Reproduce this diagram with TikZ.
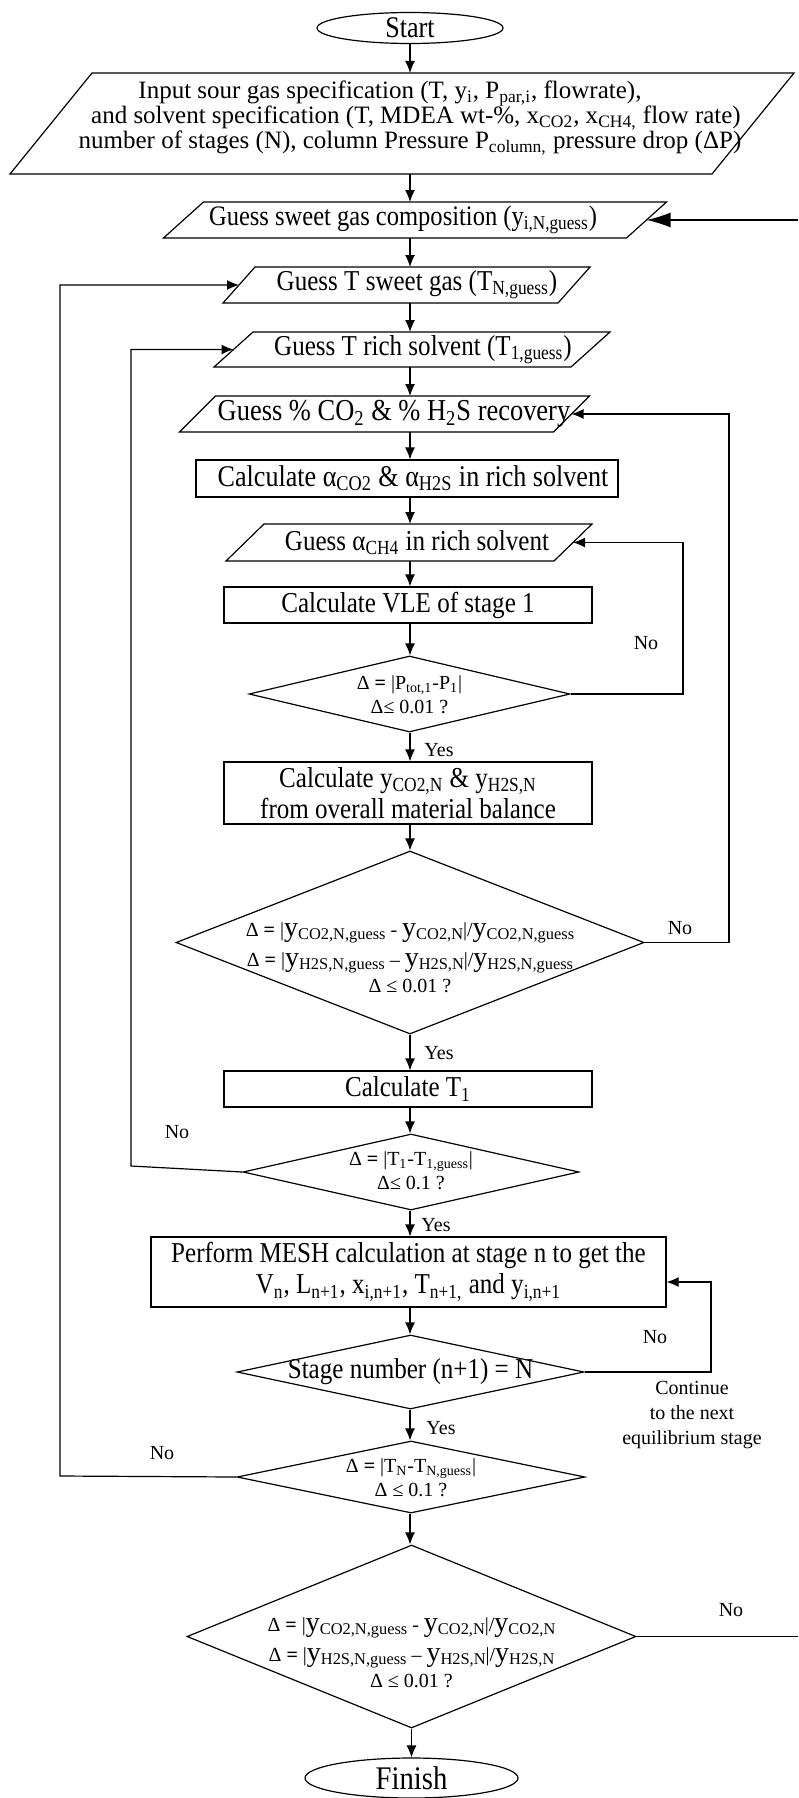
\documentclass[tikz,border=0pt]{standalone}
\usepackage{fontspec}
\setmainfont{Liberation Serif}
% a narrowed cut of the same face for the box texts
\newfontfamily\tallfont[FakeStretch=0.87]{Liberation Serif}
\usetikzlibrary{shapes.geometric,arrows.meta}

% parallelogram drawn round a frame node: #1 node name, #2 half of the slant
\newcommand\slantbox[2]{%
  \draw[line] ([xshift=-#2]#1.south west) -- ([xshift=-#2]#1.south east)
    -- ([xshift=#2]#1.north east) -- ([xshift=#2]#1.north west) -- cycle;}
% large y with a small subscript, as in the convergence tests
\newcommand\yv[1]{{\fontsize{14}{14}\selectfont y}\raisebox{-1.5pt}{\fontsize{8.2}{8.2}\selectfont #1}}
\newcommand\eqb{\textbf{=}}

\begin{document}
\begin{tikzpicture}[x=0.5pt,y=-0.5pt,
  line/.style={line width=0.6pt},
  flow/.style={line, -{Latex[length=6pt,width=5pt]}},
  bigflow/.style={line, -{Latex[length=12pt,width=7.5pt]}},
  frame/.style={draw=none, inner sep=0pt, outer sep=0pt},
  txt/.style={inner sep=0pt, align=center, font=\tallfont\fontsize{14.4}{17}\selectfont},
  box/.style={rectangle, draw, line width=0.6pt, inner sep=0pt, align=center, font=\tallfont\fontsize{14.4}{15.5}\selectfont},
  dec/.style={diamond, draw, line width=0.6pt, inner sep=0pt},
  dtxt/.style={inner sep=0pt, align=center, font=\fontsize{10}{12}\selectfont},
  term/.style={ellipse, draw, line width=0.6pt, inner sep=0pt},
  lbl/.style={inner sep=0pt, font=\fontsize{10}{12.5}\selectfont, align=center},
]
\fill[white] (0,0) rectangle (798,1798);
\useasboundingbox (0,0) rectangle (798,1798);
\coordinate (axis) at (410,0);

% ---------- main column ----------
\node[term, minimum width=93pt, minimum height=15.5pt, font=\tallfont\fontsize{15}{15}\selectfont] (start) at (410,28) {Start};

\node[frame, minimum width=351pt, minimum height=50.5pt] (input) at (402,123.5) {};
\slantbox{input}{20.5pt}
\node[inner sep=0pt, align=center, font=\fontsize{12.5}{12.5}\selectfont] (inputtxt) at (410,118)
  {\hspace*{-20pt}Input sour gas specification (T, y\textsubscript{i}, P\textsubscript{par,i}, flowrate),\\
   \hspace*{6pt}and solvent specification (T, MDEA wt-\%, x\textsubscript{CO2}, x\textsubscript{CH4,} flow rate)\\
   number of stages (N), column Pressure P\textsubscript{column,} pressure drop (ΔP)};

\node[frame, minimum width=231.5pt, minimum height=18pt] (comp) at (415,220) {};
\slantbox{comp}{10pt}
\node[txt, font=\tallfont\fontsize{14.1}{17}\selectfont] (comptxt) at (403,220) {Guess sweet gas composition (y\textsubscript{i,N,guess})};

\node[frame, minimum width=167.5pt, minimum height=18pt] (tsweet) at (406.5,285) {};
\slantbox{tsweet}{8pt}
\node[txt] (tsweettxt) at (417,285) {Guess T sweet gas (T\textsubscript{N,guess})};

\node[frame, minimum width=178.5pt, minimum height=17.5pt] (trich) at (412,349.5) {};
\slantbox{trich}{9.75pt}
\node[txt] (trichtxt) at (423,349.5) {Guess T rich solvent (T\textsubscript{1,guess})};

\node[frame, minimum width=187pt, minimum height=18pt] (recov) at (384.5,414) {};
\slantbox{recov}{9pt}
\node[txt, font=\tallfont\fontsize{15.2}{17}\selectfont] (recovtxt) at (394,414) {Guess \% CO\textsubscript{2} \& \% H\textsubscript{2}S recovery};

\node[box, minimum width=211pt, minimum height=18.5pt] (calcalpha) at (407,478.5) {};
\node[txt, font=\tallfont\fontsize{15}{17}\selectfont] (calcalphatxt) at (413,478.5)
  {Calculate α\textsubscript{CO2} \& α\textsubscript{H2S} in rich solvent};

\node[frame, minimum width=164pt, minimum height=18.5pt] (ch4) at (409,542.5) {};
\slantbox{ch4}{9.5pt}
\node[txt] (ch4txt) at (417,542.5) {Guess α\textsubscript{CH4} in rich solvent};

\node[box, minimum width=184pt, minimum height=18pt] (vle) at (408,605) {Calculate VLE of stage 1};

\node[dec, minimum width=160.5pt, minimum height=38pt] (d1) at (409.5,694) {};
\node[dtxt] (d1t) at (409.5,695) {Δ \eqb{} |P\textsubscript{tot,1}-P\textsubscript{1}|\\Δ≤ 0.01 ?};

\node[box, minimum width=184pt, minimum height=31pt] (calcy) at (408,793)
  {Calculate y\textsubscript{CO2,N} \& y\textsubscript{H2S,N}\\from overall material balance};

\node[dec, minimum width=234pt, minimum height=91.5pt] (d2) at (410,942.5) {};
\node[dtxt, font=\fontsize{10}{13}\selectfont] (d2t) at (410,958)
  {Δ \eqb{} |\yv{CO2,N,guess} - \yv{CO2,N}|/\yv{CO2,N,guess}\\[2pt]
   Δ \eqb{} |\yv{H2S,N,guess} – \yv{H2S,N}|/\yv{H2S,N,guess}\\
   Δ ≤ 0.01 ?};

\node[box, minimum width=184pt, minimum height=18pt] (calct1) at (408,1089) {Calculate T\textsubscript{1}};

\node[dec, minimum width=168pt, minimum height=38pt] (d3) at (411,1172) {};
\node[dtxt] (d3t) at (411,1171) {Δ \eqb{} |T\textsubscript{1}-T\textsubscript{1,guess}|\\Δ≤ 0.1 ?};

\node[box, minimum width=257.5pt, minimum height=35pt] (mesh) at (408.5,1272)
  {Perform MESH calculation at stage n to get the\\
   V\textsubscript{n}, L\textsubscript{n+1}, x\textsubscript{i,n+1}, T\textsubscript{n+1,} and y\textsubscript{i,n+1}};

\node[dec, minimum width=173.5pt, minimum height=37pt] (d4) at (410.5,1372) {};
\node[txt] (d4t) at (410.5,1372) {Stage number (n+1) = N};

\node[dec, minimum width=174pt, minimum height=36pt] (d5) at (411,1477) {};
\node[dtxt] (d5t) at (411,1478) {Δ \eqb{} |T\textsubscript{N}-T\textsubscript{N,guess}|\\Δ ≤ 0.1 ?};

\node[dec, minimum width=224.5pt, minimum height=91.5pt] (d6) at (411.5,1636.5) {};
\node[dtxt, font=\fontsize{10}{13}\selectfont] (d6t) at (411.5,1653)
  {Δ \eqb{} |\yv{CO2,N,guess} - \yv{CO2,N}|/\yv{CO2,N}\\[2pt]
   Δ \eqb{} |\yv{H2S,N,guess} – \yv{H2S,N}|/\yv{H2S,N}\\
   Δ ≤ 0.01 ?};

\node[term, minimum width=106.5pt, minimum height=20pt, font=\tallfont\fontsize{16.5}{16.5}\selectfont] (finish) at (411.5,1778) {Finish};

% ---------- straight-down connectors ----------
\draw[flow] (start.south) -- (start.south |- input.north);
\draw[flow] (input.south -| axis) -- (comp.north -| axis);
\draw[flow] (comp.south -| axis) -- (tsweet.north -| axis);
\draw[flow] (tsweet.south -| axis) -- (trich.north -| axis);
\draw[flow] (trich.south -| axis) -- (recov.north -| axis);
\draw[flow] (recov.south -| axis) -- (calcalpha.north -| axis);
\draw[flow] (calcalpha.south -| axis) -- (ch4.north -| axis);
\draw[flow] (ch4.south -| axis) -- (vle.north -| axis);
\draw[flow] (vle.south -| axis) -- (d1.north -| axis);
\draw[flow] (d1.south -| axis) -- (calcy.north -| axis);
\draw[flow] (calcy.south -| axis) -- (d2.north -| axis);
\draw[flow] (d2.south -| axis) -- (calct1.north -| axis);
\draw[flow] (calct1.south -| axis) -- (d3.north -| axis);
\draw[flow] (d3.south -| axis) -- (mesh.north -| axis);
\draw[flow] (mesh.south -| axis) -- (d4.north -| axis);
\draw[flow] (d4.south -| axis) -- (d5.north -| axis);
\draw[flow] (d5.south -| axis) -- (d6.north -| axis);
\draw[flow] (d6.south) -- (d6.south |- finish.north);

% ---------- return loops ----------
\coordinate (l1b) at (60,1476);
\draw[flow] (d5.west) -- (l1b) -- (l1b |- tsweet.west) -- (tsweet.west);
\coordinate (l2b) at (131,1166);
\draw[flow] (d3.west) -- (l2b) -- (l2b |- trich.west) -- (trich.west);
\coordinate (r1) at (729,0);
\draw[flow] (d2.east) -- (d2.east -| r1) -- (r1 |- recov.east) -- (recov.east);
\coordinate (r2) at (683,0);
\draw[flow] (d1.east) -- (d1.east -| r2) -- (r2 |- ch4.east) -- (ch4.east);
\coordinate (r3) at (711,1282);
\draw[flow] (d4.east) -- (d4.east -| r3) -- (r3) -- (r3 -| mesh.east);
\coordinate (edge) at (798,0);
\draw[line] (d6.east) -- (d6.east -| edge);
\draw[bigflow] (comp.east -| edge) -- (comp.east);

% ---------- branch labels ----------
\node[lbl] (no1) at (646,643) {No};
\node[lbl] (yes1) at (439,750) {Yes};
\node[lbl] (no2) at (680,928) {No};
\node[lbl] (yes2) at (439,1053) {Yes};
\node[lbl] (no3) at (177,1132) {No};
\node[lbl] (yes3) at (436,1225) {Yes};
\node[lbl] (no4) at (655,1337) {No};
\node[lbl] (cont) at (692,1415) {Continue\\to the next\\equilibrium stage};
\node[lbl] (yes4) at (441,1428) {Yes};
\node[lbl] (no5) at (162,1453) {No};
\node[lbl] (no6) at (731,1610) {No};
\end{tikzpicture}
\end{document}
